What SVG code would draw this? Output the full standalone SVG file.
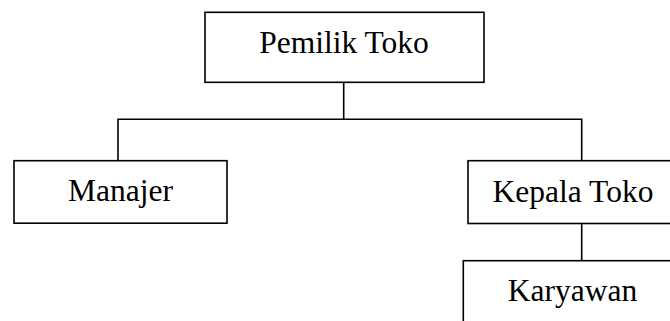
<svg xmlns="http://www.w3.org/2000/svg" width="670" height="321" viewBox="0 0 670 321">
<style>
.box{fill:#fff;stroke:#000;stroke-width:1.6}
.lbl{font-family:"Liberation Serif","Times New Roman",serif;font-size:31.5px;fill:#000;text-anchor:middle}
.con{fill:none;stroke:#000;stroke-width:1.6}
</style>
<rect width="670" height="321" fill="#fff"/>
<g id="connectors">
<polyline class="con" points="343.7,82 343.7,119.3"/>
<polyline class="con" points="118,160.7 118,119.3 581.7,119.3 581.7,160.7"/>
<polyline class="con" points="581.7,223.5 581.7,260.7"/>
</g>
<g id="pemilik-toko">
<rect class="box" x="205" y="12.3" width="279" height="70"/>
<text class="lbl" x="344" y="53">Pemilik Toko</text>
</g>
<g id="manajer">
<rect class="box" x="14" y="160.7" width="213" height="62.5"/>
<text class="lbl" x="120.5" y="200.7">Manajer</text>
</g>
<g id="kepala-toko">
<rect class="box" x="468" y="160.7" width="210" height="62.8"/>
<text class="lbl" x="573" y="201.7">Kepala Toko</text>
</g>
<g id="karyawan">
<rect class="box" x="463.3" y="260.7" width="220" height="80"/>
<text class="lbl" x="572.5" y="300.7">Karyawan</text>
</g>
</svg>
